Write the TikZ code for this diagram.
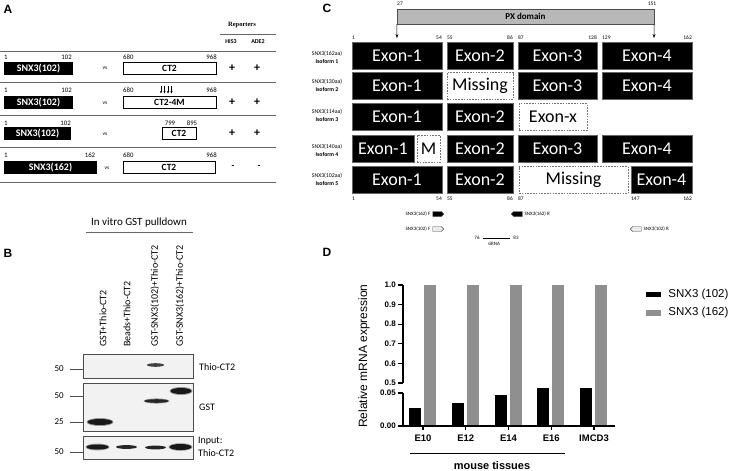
\documentclass[tikz,border=0pt]{standalone}
\usepackage{fontspec}
\setmainfont{Carlito}
\newfontfamily\arialf{Liberation Sans}
\newfontfamily\serf{Liberation Serif}
\usepackage{tikz}
\usetikzlibrary{positioning,arrows.meta,calc,shapes.symbols}
\usepackage{xcolor}
\definecolor{bargray}{gray}{0.56}
\definecolor{pxgray}{gray}{0.72}
\definecolor{rulegray}{gray}{0.4}
\definecolor{blotbg}{gray}{0.95}
\newcommand{\fsz}[1]{\fontsize{#1}{#1}\selectfont}

\tikzset{
  panel/.style={font=\arialf\bfseries\fsz{12}, inner sep=0},
  numlbl/.style={font=\fsz{6.8}, inner sep=0},
  snxbox/.style={fill=black, text=white, font=\bfseries\fsz{10}, inner sep=0, minimum height=13pt},
  ctbox/.style={draw, line width=0.9pt, fill=white, font=\bfseries\fsz{9.5}, inner sep=0, minimum height=12pt},
  vslbl/.style={font=\fsz{5.5}, inner sep=0},
  hit/.style={font=\bfseries\fsz{12}, inner sep=0},
  exon/.style={fill=black, draw=black!60, text=white, font=\fsz{18}, inner sep=0, minimum height=27pt},
  gapbox/.style={draw=black!55, dash pattern=on 1.6pt off 1.2pt, fill=white, font=\fsz{18}, inner sep=0, minimum height=27pt},
  aanum/.style={font=\fsz{5.5}, inner sep=0},
  isolbl/.style={font=\fontsize{5.8}{8}\selectfont, align=center, inner sep=0},
  primer/.style={signal, draw=black!70, inner sep=0, minimum width=11pt, minimum height=5pt},
  prlbl/.style={font=\fsz{5}, inner sep=0},
  lane/.style={rotate=90, anchor=west, font=\fsz{10}, inner sep=0},
  blot/.style={draw=black!70, fill=blotbg, line width=0.8pt, inner sep=0, minimum width=110pt},
  mw/.style={font=\fsz{9}, anchor=east, inner sep=0},
  wblbl/.style={font=\fsz{10}, anchor=west, inner sep=0},
  axisline/.style={line width=1.1pt},
  ytl/.style={font=\arialf\bfseries\fsz{8}, anchor=east, inner sep=0},
  grp/.style={font=\arialf\bfseries\fsz{9.5}, inner sep=0},
}

\begin{document}
\begin{tikzpicture}[x=1pt,y=-1pt]
  \useasboundingbox (0,0) rectangle (731,471);

  % ---------- A: two-hybrid table
  \node[panel] (pA) at (8,9) {A};
  \node[font=\serf\bfseries\fsz{6.5}] (rep) at (242,25) {Reporters};
  \draw[rulegray] (220,34) -- (276,34);
  \node[font=\bfseries\fsz{6}] (his) at (231,42) {HIS3};
  \node[font=\bfseries\fsz{6}] (ade) at (258,42) {ADE2};
  \foreach \y in {51,82,115,147,182}
    \draw[rulegray, line width=0.8pt] (0,\y) -- (276,\y);

  % row 1
  \node[snxbox, minimum width=69pt] (s1) at (38.5,68.5) {SNX3(102)};
  \node[numlbl, anchor=west] (s1a) at (4,57) {1};
  \node[numlbl, anchor=east] (s1b) at (72,57) {102};
  \node[vslbl] (vs1) at (105,68.5) {vs};
  \node[ctbox, minimum width=93pt] (c1) at (169.5,68) {CT2};
  \node[numlbl, anchor=west] (c1a) at (123,57) {680};
  \node[numlbl, anchor=east] (c1b) at (217,57) {968};
  \node[hit] (h1a) at (232,68) {+};
  \node[hit] (h1b) at (257,68) {+};

  % row 2
  \node[snxbox, minimum width=69pt] (s2) at (38.5,102.5) {SNX3(102)};
  \node[numlbl, anchor=west] (s2a) at (4,90) {1};
  \node[numlbl, anchor=east] (s2b) at (72,90) {102};
  \node[vslbl] (vs2) at (105,103) {vs};
  \node[ctbox, minimum width=93pt] (c2) at (169.5,102.5) {CT2-4M};
  \node[numlbl, anchor=west] (c2a) at (123,90) {680};
  \node[numlbl, anchor=east] (c2b) at (217,90) {968};
  \foreach \x in {161,164.5,168,171.5}
    \draw[-{Stealth[length=2.5pt,width=2.2pt]}, line width=0.5pt] (\x,85.5) -- (\x,93.5);
  \node[hit] (h2a) at (232,102) {+};
  \node[hit] (h2b) at (257,102) {+};

  % row 3
  \node[snxbox, minimum width=67pt] (s3) at (37.5,133.5) {SNX3(102)};
  \node[numlbl, anchor=west] (s3a) at (4,123) {1};
  \node[numlbl, anchor=east] (s3b) at (71,123) {102};
  \node[vslbl] (vs3) at (105,134) {vs};
  \node[ctbox, minimum width=34pt] (c3) at (179,133) {CT2};
  \node[numlbl] (c3a) at (170,123) {799};
  \node[numlbl] (c3b) at (192,123) {895};
  \node[hit] (h3a) at (232,133) {+};
  \node[hit] (h3b) at (257,133) {+};

  % row 4
  \node[snxbox, minimum width=93pt] (s4) at (50.5,167.5) {SNX3(162)};
  \node[numlbl, anchor=west] (s4a) at (4,155) {1};
  \node[numlbl] (s4b) at (90,155) {162};
  \node[vslbl] (vs4) at (107,168) {vs};
  \node[ctbox, minimum width=92pt] (c4) at (169,167.5) {CT2};
  \node[numlbl, anchor=west] (c4a) at (123,155) {680};
  \node[numlbl, anchor=east] (c4b) at (217,155) {968};
  \node[font=\bfseries\fsz{9}, inner sep=0] (h4a) at (233,167) {-};
  \node[font=\bfseries\fsz{9}, inner sep=0] (h4b) at (259,167) {-};

  % ---------- B: GST pulldown
  \node[panel] (pB) at (8,253) {B};
  \node[font=\fsz{11}] (pull) at (139,223) {In vitro GST pulldown};
  \draw[rulegray] (86,232) -- (193,232);
  \foreach \x/\t [count=\i] in {103/GST+Thio-CT2, 127/Beads+Thio-CT2,
      155/GST-SNX3(102)+Thio-CT2, 180/GST-SNX3(162)+Thio-CT2}
    \node[lane] (lane\i) at (\x,347) {\t};

  \node[blot, minimum height=24pt] (b1) at (138,366) {};
  \node[blot, minimum height=48pt] (b2) at (138,407) {};
  \node[blot, minimum height=23pt] (b3) at (138,447.5) {};
  % bands
  \fill[black!75] (155.5,365) ellipse (8.5 and 1.8);
  \fill[black!40] (156.5,401) ellipse (13 and 2.6);
  \fill[black!85] (156.5,401) ellipse (12 and 1.8);
  \fill[black!40] (181,391) ellipse (11.5 and 4);
  \fill[black!90] (181,391) ellipse (10.5 and 3);
  \fill[black!40] (100,422) ellipse (13.5 and 4);
  \fill[black!90] (100,422) ellipse (12.5 and 3);
  \fill[black!40] (97.5,447) ellipse (12 and 3.4);
  \fill[black!90] (97.5,447) ellipse (11 and 2.5);
  \fill[black!85] (126.5,447) ellipse (10.5 and 1.9);
  \fill[black!85] (155.5,447.5) ellipse (10.5 and 1.9);
  \fill[black!40] (180.5,447) ellipse (12 and 3.8);
  \fill[black!90] (180.5,447) ellipse (11 and 3);

  \foreach \y/\m [count=\i] in {369/50, 396/50, 422/25, 452/50} {
    \node[mw] (mw\i) at (64,\y) {\m};
    \draw[black!70] (70,\y) -- (b1.west |- 0,\y);
  }
  \node[wblbl] (wb1) at (199,367) {Thio-CT2};
  \node[wblbl] (wb2) at (199,407) {GST};
  \node[wblbl] (wb3) at (198,441) {Input:};
  \node[wblbl] (wb4) at (198,453) {Thio-CT2};

  % ---------- C: isoforms
  \node[panel] (pC) at (327,8) {C};
  \node[draw=black!70, fill=pxgray, minimum width=257pt, minimum height=15pt,
        inner sep=0, font=\bfseries\fsz{9}] (px) at (525.5,16.5) {PX domain};
  \node[aanum] (px27) at (400,4) {27};
  \node[aanum] (px151) at (652,4) {151};
  \coordinate (pxl) at (397,38);
  \coordinate (pxr) at (654,38);
  \draw[-{Stealth[length=4pt,width=3pt]}] (px.south west) -- (pxl);
  \draw[-{Stealth[length=4pt,width=3pt]}] (px.south east) -- (pxr);

  \foreach \t/\x/\a in {1/352/west, 54/442/east, 55/447/west, 86/513/east,
      87/518/west, 128/597/east, 129/602/west, 162/692/east}
    \node[aanum, anchor=\a] (top\t) at (\x,38) {\t};

  % isoform 1
  \node[isolbl] (iso1) at (327,57) {SNX3(162aa)\\\textbf{Isoform 1}};
  \node[exon, minimum width=90pt] (r1e1) at (397,56) {Exon-1};
  \node[exon, minimum width=66pt] (r1e2) at (480,56) {Exon-2};
  \node[exon, minimum width=79pt] (r1e3) at (557.5,56) {Exon-3};
  \node[exon, minimum width=90pt] (r1e4) at (647,56) {Exon-4};
  % isoform 2
  \node[isolbl] (iso2) at (327,85) {SNX3(130aa)\\\textbf{Isoform 2}};
  \node[exon, minimum width=90pt] (r2e1) at (397,86) {Exon-1};
  \node[gapbox, minimum width=66pt] (r2e2) at (480,86) {Missing};
  \node[exon, minimum width=79pt] (r2e3) at (557.5,86) {Exon-3};
  \node[exon, minimum width=90pt] (r2e4) at (647,86) {Exon-4};
  % isoform 3
  \node[isolbl] (iso3) at (327,115) {SNX3(114aa)\\\textbf{Isoform 3}};
  \node[exon, minimum width=90pt] (r3e1) at (397,117) {Exon-1};
  \node[exon, minimum width=66pt] (r3e2) at (480,117) {Exon-2};
  \node[gapbox, minimum width=68pt] (r3ex) at (553,117) {Exon-x};
  % isoform 4
  \node[isolbl] (iso4) at (327,150) {SNX3(140aa)\\\textbf{Isoform 4}};
  \node[exon, minimum width=62pt] (r4e1) at (383,149) {Exon-1};
  \node[gapbox, minimum width=23pt] (r4m) at (428.5,149) {M};
  \node[exon, minimum width=66pt] (r4e2) at (480,149) {Exon-2};
  \node[exon, minimum width=79pt] (r4e3) at (557.5,149) {Exon-3};
  \node[exon, minimum width=90pt] (r4e4) at (647,149) {Exon-4};
  % isoform 5
  \node[isolbl] (iso5) at (327,179) {SNX3(102aa)\\\textbf{Isoform 5}};
  \node[exon, minimum width=90pt] (r5e1) at (397,180) {Exon-1};
  \node[exon, minimum width=66pt] (r5e2) at (480,180) {Exon-2};
  \node[gapbox, minimum width=109pt] (r5e3) at (573.5,180) {Missing};
  \node[exon, minimum width=61pt] (r5e4) at (661.5,180) {Exon-4};

  \foreach \t/\x/\a in {1/352/west, 54/442/east, 55/447/west, 86/513/east,
      87/518/west, 147/631/west, 162/692/east}
    \node[aanum, anchor=\a] (bot\t) at (\x,199) {\t};

  % primers and siRNA
  \node[primer, signal to=east, fill=black] (f162) at (437,214) {};
  \node[prlbl, left=2pt of f162] (f162l) {SNX3(162) F};
  \node[primer, signal to=west, fill=black] (r162) at (518,214) {};
  \node[prlbl, right=2pt of r162] (r162l) {SNX3(162) R};
  \node[primer, signal to=east, fill=black!8] (f102) at (437,229) {};
  \node[prlbl, left=2pt of f102] (f102l) {SNX3(102) F};
  \node[primer, signal to=west, fill=black!8] (r102) at (637,229) {};
  \node[prlbl, right=2pt of r102] (r102l) {SNX3(102) R};
  \node[prlbl] (si76) at (477,238) {76};
  \node[prlbl] (si83) at (516,238) {83};
  \draw[line width=0.8pt] (si76.east) ++(3,0) -- ($(si83.west)+(-3,0)$);
  \node[prlbl] (sirna) at (494,244) {siRNA};

  % ---------- D: relative expression
  \node[panel] (pD) at (327,252) {D};
  \node[rotate=90, font=\arialf\fsz{12}, inner sep=0] (ylab) at (364,356) {Relative mRNA expression};
  \foreach \lab/\top [count=\i from 0] in {E10/408, E12/403, E14/395, E16/388, IMCD3/388} {
    \pgfmathsetmacro\cx{423+42.75*\i}
    \fill[black] ({\cx-14},426) rectangle ({\cx-2},\top);
    \fill[bargray] ({\cx+1},426) rectangle ({\cx+13},285);
    \draw[axisline] (\cx,426) -- (\cx,429.5);
    \node[grp] (g\i) at (\cx,438) {\lab};
  }
  \draw[axisline] (403,285) -- (403,383);
  \draw[axisline] (403,393) -- (403,426) -- (615,426);
  \foreach \v [count=\i from 0] in {1.0,0.9,0.8,0.7,0.6,0.5} {
    \draw[axisline] (398,{285+19.6*\i}) -- (403,{285+19.6*\i});
    \node[ytl] (yt\i) at (396,{285+19.6*\i}) {\v};
  }
  \draw[axisline] (398,393) -- (403,393);
  \node[ytl] (ytb) at (396,393) {0.05};
  \draw[axisline] (398,426) -- (403,426);
  \node[ytl] (ytz) at (396,426) {0.00};

  \draw[line width=0.9pt] (410,453) -- (565,453);
  \node[font=\arialf\bfseries\fsz{11}, inner sep=0] (mouse) at (492,466) {mouse tissues};

  % legend
  \node[fill=black, minimum width=15pt, minimum height=5.5pt, inner sep=0] (k1) at (653.5,294.5) {};
  \node[font=\arialf\fsz{11.5}, right=7pt of k1, inner sep=0] (k1l) {SNX3 (102)};
  \node[fill=bargray, minimum width=15pt, minimum height=5.5pt, inner sep=0] (k2) at (653.5,313) {};
  \node[font=\arialf\fsz{11.5}, right=7pt of k2, inner sep=0] (k2l) {SNX3 (162)};
\end{tikzpicture}
\end{document}
